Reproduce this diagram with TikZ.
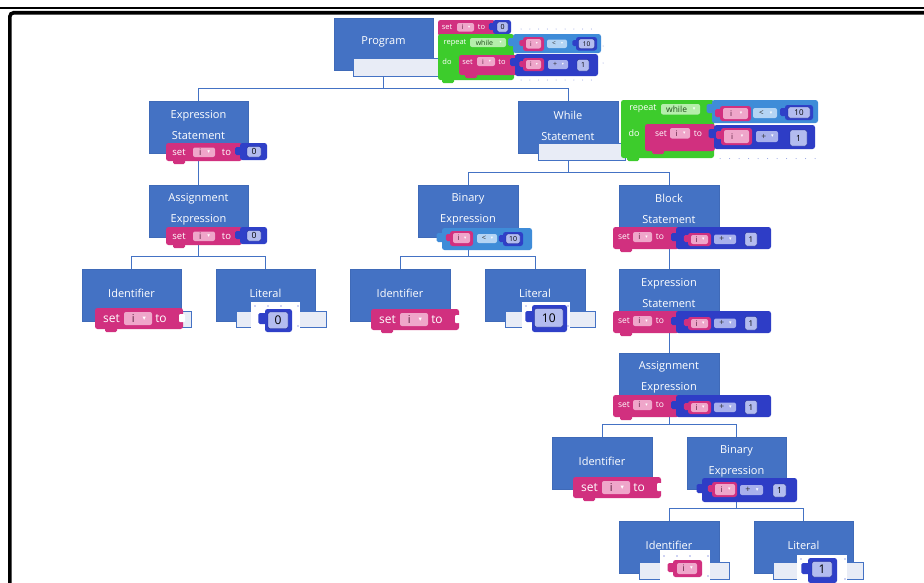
\documentclass[tikz,border=0pt]{standalone}
\usepackage{fontspec}
\setmainfont{Open Sans}
\newfontfamily\symf{DejaVu Sans}
\usetikzlibrary{calc}

\definecolor{boxblue}{HTML}{4472C4}
\definecolor{boxedge}{HTML}{3F6AB8}
\definecolor{phfill}{HTML}{E8ECF6}
\definecolor{pinkB}{HTML}{D1307F}
\definecolor{varfld}{HTML}{EFA6CA}
\definecolor{vartxt}{HTML}{5B1E3E}
\definecolor{greenB}{HTML}{3DCC2C}
\definecolor{greenfld}{HTML}{B5EEAB}
\definecolor{greentxt}{HTML}{1F4D1A}
\definecolor{cmpB}{HTML}{3F8CD8}
\definecolor{cmpfld}{HTML}{B4D4F4}
\definecolor{plusB}{HTML}{2E3DC6}
\definecolor{plusfld}{HTML}{A8B0EC}
\definecolor{numB}{HTML}{2F40C8}
\definecolor{numfld}{HTML}{B3BCEF}
\definecolor{numline}{HTML}{1B278F}
\definecolor{gridDot}{HTML}{8C9BE0}
\definecolor{imgDot}{HTML}{3344CC}

% ---- block-editor primitives (pixel units, y grows downwards) ----
\newcommand\blkbody[5]{\fill[#1,rounded corners=2.5pt] (#2,#3) rectangle (#4,#5);}
\newcommand\blktab[4]{\fill[#1,rounded corners=1.5pt] ({#2-0.6*#4},#3) rectangle ({#2+2},{#3+#4});}
\newcommand\blkbump[3]{\fill[#1,rounded corners=1.5pt] (#2,{#3-3}) rectangle ({#2+12},{#3+3});}
\newcommand\wlab[4]{\node[inner sep=0,text=white,font=\fontsize{#4}{#4}\selectfont] at (#1,#2) {#3};}
% variable dropdown field "i"
\newcommand\vfld[5]{%
  \fill[varfld,rounded corners=2pt] (#1,#2) rectangle (#3,#4);
  \pgfmathsetmacro\ddsz{0.6*#5}%
  \node[inner sep=0,text=vartxt,font=\fontsize{#5}{#5}\selectfont] at ({#1+0.33*(#3-#1)},{(#2+#4)/2}) {i};
  \node[inner sep=0,text=white,font=\symf\fontsize{\ddsz}{\ddsz}\selectfont] at ({#1+0.72*(#3-#1)},{(#2+#4)/2}) {▾};}
% operator dropdown field
\newcommand\ofld[7]{%
  \fill[#1,rounded corners=2pt] (#2,#3) rectangle (#4,#5);
  \pgfmathsetmacro\ddsz{0.6*#7}%
  \node[inner sep=0,text=black!80,font=\fontsize{#7}{#7}\selectfont] at ({#2+0.35*(#4-#2)},{(#3+#5)/2}) {#6};
  \node[inner sep=0,text=white,font=\symf\fontsize{\ddsz}{\ddsz}\selectfont] at ({#2+0.75*(#4-#2)},{(#3+#5)/2}) {▾};}
% "while" dropdown field
\newcommand\gfld[5]{%
  \fill[greenfld,rounded corners=2pt] (#1,#2) rectangle (#3,#4);
  \pgfmathsetmacro\ddsz{0.6*#5}%
  \node[inner sep=0,text=greentxt,font=\fontsize{#5}{#5}\selectfont] at ({#1+0.4*(#3-#1)},{(#2+#4)/2}) {while};
  \node[inner sep=0,text=white,font=\symf\fontsize{\ddsz}{\ddsz}\selectfont] at ({#1+0.85*(#3-#1)},{(#2+#4)/2}) {▾};}
% number field
\newcommand\nfld[6]{%
  \filldraw[fill=numfld,draw=numline,line width=0.4pt,rounded corners=2pt] (#1,#2) rectangle (#3,#4);
  \node[inner sep=0,text=black,font=\fontsize{#6}{#6}\selectfont] at ({(#1+#3)/2},{(#2+#4)/2}) {#5};}
% dots on the pasted block images
\newcommand\imgdots[3]{%
  \foreach \dx in {4,17,30} \fill[imgDot] ({#1+\dx},{#2+4}) circle (0.55);
  \fill[imgDot] ({#3-2},{#2+4}) circle (0.55);
  \fill[imgDot] ({#3-2},{#2+24}) circle (0.55);}

% ---- composite blocks ----
\newcommand\setzero[2]{%
\begin{scope}[shift={(#1,#2)}]
  \blkbump{pinkB}{7}{18}
  \blkbody{pinkB}{0}{0}{76}{18}
  \blkbody{numB}{74}{0}{101}{17}
  \blktab{numB}{74}{4}{8}
  \wlab{13}{9}{set}{9.5}
  \vfld{27}{4.5}{49}{14}{9}
  \wlab{60.5}{9}{to}{9.5}
  \nfld{81}{3.5}{95}{14}{0}{8.5}
\end{scope}}

\newcommand\setplus[2]{%
\begin{scope}[shift={(#1,#2)}]
  \blkbump{pinkB}{7}{22}
  \blkbody{pinkB}{0}{0}{66}{22}
  \blkbody{plusB}{63}{0}{158}{22}
  \blktab{plusB}{63}{6}{8}
  \wlab{11}{10}{set}{8.5}
  \vfld{20}{5}{39}{15}{8}
  \wlab{47}{10}{to}{8.5}
  \blkbody{pinkB}{75}{6}{98}{19}
  \blktab{pinkB}{75}{8}{7}
  \vfld{78}{8}{95}{17}{8}
  \ofld{plusfld}{101}{7.5}{123}{17}{+}{8.5}
  \nfld{132}{5.5}{144}{19}{1}{8}
\end{scope}}

\newcommand\setid[2]{%
\begin{scope}[shift={(#1,#2)}]
  \blkbump{pinkB}{10}{21}
  \blkbody{pinkB}{0}{0}{88}{21}
  \fill[white,rounded corners=1pt] (84,6) rectangle (90,14);
  \wlab{16.5}{10.5}{set}{12}
  \vfld{29}{4}{57}{17}{11}
  \wlab{66}{10.5}{to}{12}
\end{scope}}

\newcommand\cmpblk[2]{%
\begin{scope}[shift={(#1,#2)}]
  \blktab{cmpB}{0}{5}{9}
  \blkbody{cmpB}{0}{0}{90}{22}
  \blkbody{pinkB}{8}{3}{31}{18}
  \blktab{pinkB}{8}{6}{7}
  \vfld{11}{5}{28}{15}{7.5}
  \ofld{cmpfld}{35}{6}{55}{15}{<}{7.5}
  \blkbody{numB}{61}{4}{81}{18}
  \blktab{numB}{61}{7}{7}
  \nfld{64}{6}{78}{15.5}{10}{7}
\end{scope}}

\newcommand\plusblk[2]{%
\begin{scope}[shift={(#1,#2)}]
  \blktab{plusB}{0}{6}{9}
  \blkbody{plusB}{0}{0}{95}{24}
  \blkbody{pinkB}{10}{4}{35}{19}
  \blktab{pinkB}{10}{7}{7}
  \vfld{13}{6}{33}{17}{8}
  \ofld{plusfld}{38}{7}{61}{17}{+}{9}
  \nfld{71}{6}{84}{19}{1}{8.5}
\end{scope}}

\tikzset{
  astbox/.style={fill=boxblue,draw=boxedge,line width=0.5pt,minimum width=99.5pt,
    minimum height=52pt,inner sep=0pt},
  asttext/.style={text=white,align=center,inner sep=0pt,font=\fontsize{11}{21}\selectfont},
  link/.style={draw=boxblue,line width=0.9pt},
  holder/.style={fill=phfill,draw=boxblue,line width=0.8pt},
}

\begin{document}
\begin{tikzpicture}[x=1pt,y=-1pt]
\useasboundingbox (0,0) rectangle (924,582);
\fill[white] (0,0) rectangle (924,582);

% page frame
\draw[line width=2pt] (0,7.7) -- (924,7.7);
\draw[line width=3.6pt,rounded corners=4pt] (930,12.7) -- (9.8,12.7) -- (9.8,590);

% ---- syntax tree nodes ----
\node[astbox] (prog) at (383.5,44) {};
\node[astbox] (es1)  at (198.5,127.5) {};
\node[astbox] (ae1)  at (198.5,211) {};
\node[astbox] (id1)  at (131.5,295) {};
\node[astbox] (lit1) at (265.5,295) {};
\node[astbox] (ws)   at (568,127.5) {};
\node[astbox] (bin1) at (468,211) {};
\node[astbox] (blk)  at (669,211) {};
\node[astbox] (id2)  at (400,295) {};
\node[astbox] (lit2) at (535,295) {};
\node[astbox] (es2)  at (669,295) {};
\node[astbox] (ae2)  at (669,379) {};
\node[astbox] (id3)  at (602,463) {};
\node[astbox] (bin2) at (736.5,463) {};
\node[astbox] (id4)  at (669,547) {};
\node[astbox] (lit4) at (803.5,547) {};

% tree links
\draw[link] (prog.south) -- ++(0,18) -| (es1.north);
\draw[link] (prog.south) -- ++(0,18) -| (ws.north);
\draw[link] (es1.south) -- (ae1.north);
\draw[link] (ae1.south) -- ++(0,19) -| (id1.north);
\draw[link] (ae1.south) -- ++(0,19) -| (lit1.north);
\draw[link] (ws.south) -- ++(0,18.5) -| (bin1.north);
\draw[link] (ws.south) -- ++(0,18.5) -| (blk.north);
\draw[link] (bin1.south) -- ++(0,19) -| (id2.north);
\draw[link] (bin1.south) -- ++(0,19) -| (lit2.north);
\draw[link] (blk.south) -- (es2.north);
\draw[link] (es2.south) -- (ae2.north);
\draw[link] (ae2.south) -- ++(0,19) -| (id3.north);
\draw[link] (ae2.south) -- ++(0,19) -| (bin2.north);
\draw[link] (bin2.south) -- ++(0,19) -| (id4.north);
\draw[link] (bin2.south) -- ++(0,19) -| (lit4.north);

% node captions
\node[asttext] (prog-t) at ([yshift=2pt]prog.center) {Program};
\node[asttext] (es1-t)  at ([yshift=2pt]es1.center)  {Expression\\Statement};
\node[asttext] (ae1-t)  at ([yshift=2pt]ae1.center)  {Assignment\\Expression};
\node[asttext] (id1-t)  at ([yshift=2pt]id1.center)  {Identifier};
\node[asttext] (lit1-t) at ([yshift=2pt]lit1.center) {Literal};
\node[asttext] (ws-t)   at ([yshift=2pt]ws.center)   {While\\Statement};
\node[asttext] (bin1-t) at ([yshift=2pt]bin1.center) {Binary\\Expression};
\node[asttext] (blk-t)  at ([yshift=2pt]blk.center)  {Block\\Statement};
\node[asttext] (id2-t)  at ([yshift=2pt]id2.center)  {Identifier};
\node[asttext] (lit2-t) at ([yshift=2pt]lit2.center) {Literal};
\node[asttext] (es2-t)  at ([yshift=2pt]es2.center)  {Expression\\Statement};
\node[asttext] (ae2-t)  at ([yshift=2pt]ae2.center)  {Assignment\\Expression};
\node[asttext] (id3-t)  at ([yshift=2pt]id3.center)  {Identifier};
\node[asttext] (bin2-t) at ([yshift=2pt]bin2.center) {Binary\\Expression};
\node[asttext] (id4-t)  at ([yshift=2pt]id4.center)  {Identifier};
\node[asttext] (lit4-t) at ([yshift=2pt]lit4.center) {Literal};

% ---- placeholder frames behind the block pictures ----
\path[holder] (353,58) rectangle (442,76);
\path[holder] (538,143) rectangle (625,160);
\path[holder] (102,311) rectangle (191,327);
\path[holder] (236,311) rectangle (326,327);
\path[holder] (505,311) rectangle (595,327);
\path[holder] (639,562) rectangle (729,579);
\path[holder] (773,562) rectangle (863,579);

% ---- Program: whole program as blocks ----
\foreach \gx in {521,529.8,...,600} {
  \fill[gridDot] (\gx,29) circle (0.5);
  \fill[gridDot] (\gx,80) circle (0.5);
}
\fill[gridDot] (603,46) circle (0.5);
\fill[gridDot] (603,63) circle (0.5);
\blkbody{pinkB}{438}{20}{495}{36}
\blkbody{numB}{493}{20}{511}{34}
\blktab{numB}{493}{23}{7}
\wlab{447}{27}{set}{7.5}
\vfld{457}{23}{474}{31.5}{7}
\wlab{481.5}{27}{to}{7.5}
\nfld{497}{22}{508}{32}{0}{7}
\blkbump{greenB}{442}{80}
\blkbody{greenB}{438}{34}{514}{80}
\wlab{455}{42.5}{repeat}{7.5}
\gfld{470}{38}{506}{47}{7}
\wlab{447}{62}{do}{7.5}
\blkbody{cmpB}{513}{34}{601}{53}
\blktab{cmpB}{513}{38}{8}
\blkbody{pinkB}{523}{37}{544}{51}
\blktab{pinkB}{523}{40}{6}
\vfld{526}{39}{541}{48.5}{6.5}
\ofld{cmpfld}{547}{39.5}{567}{48}{<}{6.5}
\blkbody{numB}{576}{37}{597}{50.5}
\blktab{numB}{576}{40}{6}
\nfld{578.5}{39}{594.5}{48.5}{10}{6.5}
\blkbump{pinkB}{465}{75}
\blkbody{pinkB}{459}{55}{518}{75}
\blkbody{plusB}{515}{54}{598}{76}
\blktab{plusB}{515}{58}{8}
\wlab{467.5}{62}{set}{7.5}
\vfld{477}{57}{495}{66}{7}
\wlab{502}{62}{to}{7.5}
\blkbody{pinkB}{523}{58}{544}{71}
\blktab{pinkB}{523}{61}{6}
\vfld{526}{60}{541}{69}{6.5}
\ofld{plusfld}{548}{60}{568}{69}{+}{7}
\nfld{577}{59.5}{589}{71}{1}{7}

% ---- While statement blocks ----
\foreach \gx in {720,729.5,...,816} \fill[gridDot] (\gx,158.5) circle (0.5);
\blkbump{greenB}{627}{158}
\blkbody{greenB}{621}{100}{714}{158}
\wlab{643}{109}{repeat}{9}
\gfld{661}{104}{700}{114.5}{8.5}
\wlab{634}{133}{do}{9}
\blkbody{cmpB}{712}{100}{818}{123}
\blktab{cmpB}{712}{104}{9}
\blkbody{pinkB}{720}{106}{751}{121}
\blktab{pinkB}{720}{109}{8}
\vfld{723}{108}{748}{119}{8}
\ofld{cmpfld}{753}{108}{777}{118}{<}{8}
\blkbody{numB}{785}{105}{813}{120}
\blktab{numB}{785}{108}{8}
\nfld{788}{107}{810}{118}{10}{8}
\blkbump{pinkB}{652}{151}
\blkbody{pinkB}{645}{124}{715}{151}
\blkbody{plusB}{714}{125}{815}{149}
\blktab{plusB}{714}{129}{9}
\wlab{661}{133.5}{set}{8.5}
\vfld{670}{128}{690}{138.5}{8}
\wlab{698}{133.5}{to}{8.5}
\blkbody{pinkB}{721}{128}{752}{145}
\blktab{pinkB}{721}{131}{8}
\vfld{724}{130}{749}{143}{8}
\ofld{plusfld}{756}{131}{778}{142}{+}{8.5}
\nfld{790}{130}{807}{146}{1}{8.5}

% ---- statement and expression blocks ----
\setzero{166}{143}
\setzero{166}{227}
\cmpblk{442}{228}
\setplus{613}{227}
\setplus{613}{311}
\setplus{613}{395}
\plusblk{702}{478}

% identifiers
\setid{95}{308}
\setid{371}{309}
\setid{573}{477}

% literal 0
\fill[white] (251,302) rectangle (300,334);
\imgdots{251}{302}{300}
\blkbody{numB}{265}{309}{292}{332}
\blktab{numB}{265}{313}{11}
\nfld{268}{312}{288}{328.5}{0}{12}

% literal 10
\fill[white] (522,302) rectangle (570,334);
\imgdots{522}{302}{570}
\blkbody{numB}{532}{305}{567}{332}
\blktab{numB}{532}{311}{11}
\nfld{534.5}{308.5}{563}{327}{10}{12}

% identifier i
\fill[white] (660,550) rectangle (710,583);
\imgdots{660}{552}{710}
\blkbody{pinkB}{673}{560}{702}{577}
\blktab{pinkB}{673}{563}{9}
\vfld{677}{563}{697}{574}{9}

% literal 1
\fill[white] (797,555) rectangle (847,583);
\imgdots{797}{555}{847}
\blkbody{numB}{808}{558}{837}{583}
\blktab{numB}{808}{563}{11}
\nfld{812}{561.5}{832}{577}{1}{12}

\end{tikzpicture}
\end{document}
